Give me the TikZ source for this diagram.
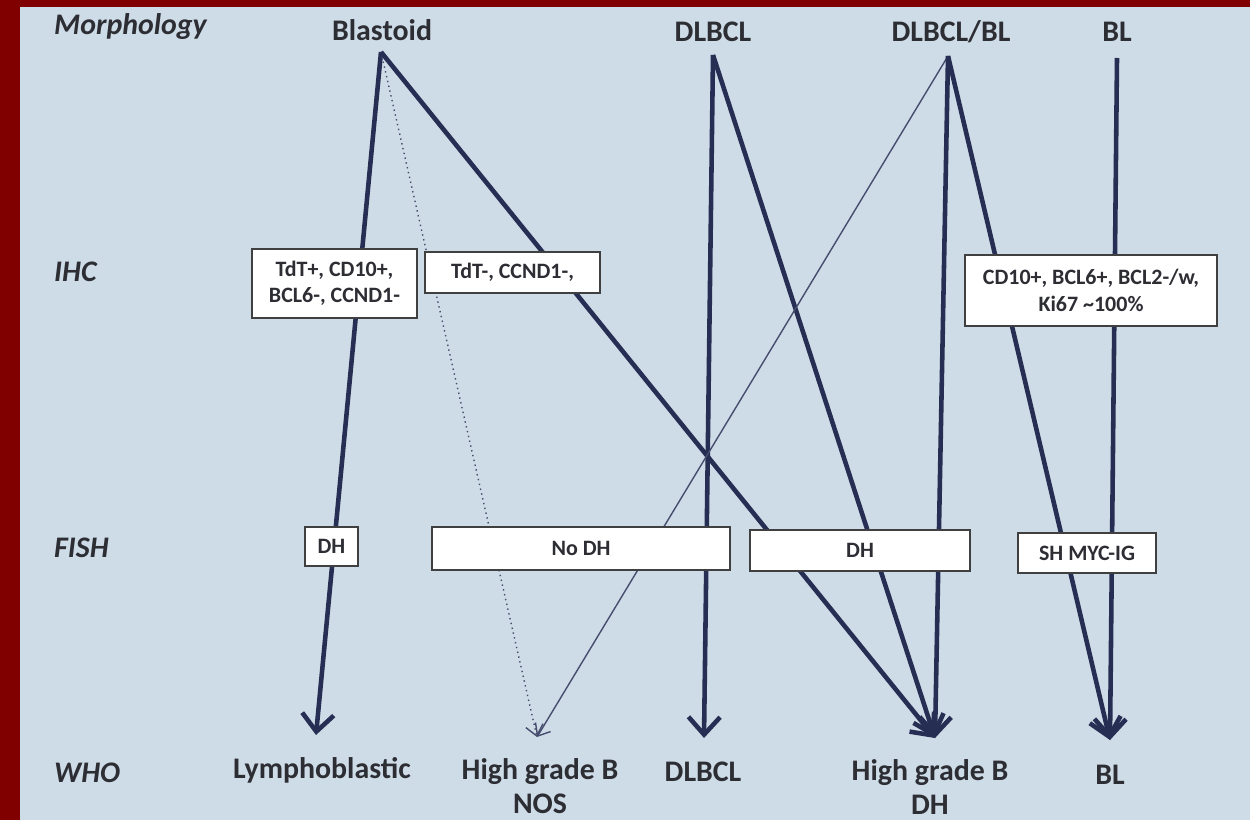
\documentclass[tikz,border=0pt]{standalone}
\usepackage{fontspec}
\setmainfont{Carlito}
\usepackage{xcolor}
\usepackage{tikz}
\usetikzlibrary{arrows.meta, positioning}

\definecolor{slide}{RGB}{206,220,231}
\definecolor{frame}{RGB}{128,0,0}
\definecolor{ink}{RGB}{38,46,84}
\definecolor{txt}{RGB}{45,45,52}

\begin{document}
\begin{tikzpicture}[x=0.02cm, y=-0.02cm,
    level/.style={font=\fontsize{17}{20}\selectfont\bfseries\itshape, text=txt, anchor=west},
    head/.style={font=\fontsize{17}{19}\selectfont\bfseries, text=txt, align=center},
    info/.style={rectangle, draw=black!75, line width=1pt, fill=white, text=txt, align=center, inner sep=2pt, font=\fontsize{12.5}{15}\selectfont\bfseries},
    main/.style={draw=ink, line width=2.6pt, -{Straight Barb[length=10pt,width=18pt]}},
    weak/.style={draw=ink!85, line width=0.8pt, -{Straight Barb[length=6pt,width=10pt]}}]

    \useasboundingbox (0,0) rectangle (1250,820);
    \fill[slide] (0,0) rectangle (1250,820);
    \fill[frame] (0,0) rectangle (20,820);
    \fill[frame] (0,0) rectangle (1250,7);

    \node [level] (morph) at (48,27) {Morphology};
    \node [level] (ihc) at (48,272) {IHC};
    \node [level] (fish) at (48,548) {FISH};
    \node [level] (who) at (48,773) {WHO};

    \node [head] (blastoid) at (382,30) {Blastoid};
    \node [head] (dlbcl) at (713,32) {DLBCL};
    \node [head] (mixed) at (951,32) {DLBCL/BL};
    \node [head] (bl) at (1117,32) {BL};

    \node [head] (lympho) at (322,770) {Lymphoblastic};
    \node [head] (hgnos) at (540,786) {High grade B\\NOS};
    \node [head] (dlbclwho) at (703,772) {DLBCL};
    \node [head] (hgdh) at (930,787) {High grade B\\DH};
    \node [head] (blwho) at (1110,775) {BL};

    \coordinate (blastoidTop) at (381,52);
    \coordinate (dlbclTop) at (713,55);
    \coordinate (mixedTop) at (948,56);
    \coordinate (blTop) at (1117,58);
    \coordinate (lymphoTip) at (316,735);
    \coordinate (nosTip) at (537,737);
    \coordinate (dlbclTip) at (704,738);
    \coordinate (dhTip) at (935,738);
    \coordinate (blTip) at (1110,740);

    \draw [main] (blastoidTop) -- (lymphoTip);
    \draw [weak, dotted] (blastoidTop) -- (nosTip);
    \draw [main] (blastoidTop) -- (dhTip);
    \draw [main] (dlbclTop) -- (dlbclTip);
    \draw [main] (dlbclTop) -- (dhTip);
    \draw [weak] (mixedTop) -- (nosTip);
    \draw [main] (mixedTop) -- (dhTip);
    \draw [main] (mixedTop) -- (blTip);
    \draw [main] (blTop) -- (blTip);

    \node [info, minimum width=3.3cm, minimum height=1.38cm] (ihcA) at (334.5,283.5) {TdT+, CD10+,\\BCL6-, CCND1-};
    \node [info, minimum width=3.5cm, minimum height=0.82cm] (ihcB) at (512.5,272.5) {TdT-, CCND1-,};
    \node [info, minimum width=5.04cm, minimum height=1.42cm] (ihcC) at (1091,290.5) {CD10+, BCL6+, BCL2-/w,\\Ki67 \textasciitilde100\%};

    \node [info, minimum width=1.06cm, minimum height=0.78cm] (fishA) at (331.5,546.5) {DH};
    \node [info, minimum width=5.96cm, minimum height=0.86cm] (fishB) at (581,548.5) {No DH};
    \node [info, minimum width=4.4cm, minimum height=0.82cm] (fishC) at (860,550.5) {DH};
    \node [info, minimum width=2.76cm, minimum height=0.8cm] (fishD) at (1087,553) {SH MYC-IG};

\end{tikzpicture}
\end{document}
